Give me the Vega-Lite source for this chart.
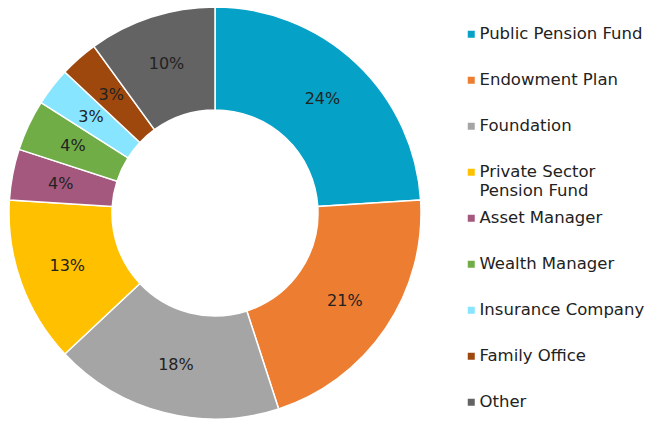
{
  "$schema": "https://vega.github.io/schema/vega-lite/v6.json",
  "width": 430,
  "height": 426,
  "padding": 0,
  "autosize": {"type": "pad"},
  "background": "white",
  "config": {"view": {"stroke": null}},
  "data": {
    "values": [
      {"type": "Public Pension Fund", "pct": 0.24, "order": 1},
      {"type": "Endowment Plan", "pct": 0.21, "order": 2},
      {"type": "Foundation", "pct": 0.18, "order": 3},
      {"type": "Private Sector Pension Fund", "pct": 0.13, "order": 4},
      {"type": "Asset Manager", "pct": 0.04, "order": 5},
      {"type": "Wealth Manager", "pct": 0.04, "order": 6},
      {"type": "Insurance Company", "pct": 0.03, "order": 7},
      {"type": "Family Office", "pct": 0.03, "order": 8},
      {"type": "Other", "pct": 0.10, "order": 9}
    ]
  },
  "encoding": {
    "theta": {"field": "pct", "type": "quantitative", "stack": true},
    "order": {"field": "order", "type": "quantitative"}
  },
  "layer": [
    {
      "mark": {"type": "arc", "outerRadius": 206, "innerRadius": 103, "stroke": "white", "strokeWidth": 1.5},
      "encoding": {
        "color": {
          "field": "type",
          "type": "nominal",
          "sort": null,
          "scale": {
            "domain": ["Public Pension Fund", "Endowment Plan", "Foundation", "Private Sector Pension Fund", "Asset Manager", "Wealth Manager", "Insurance Company", "Family Office", "Other"],
            "range": ["#06A1C7", "#ED7D31", "#A5A5A5", "#FFC000", "#A5587D", "#70AD47", "#87E5FF", "#9E480E", "#636363"]
          },
          "legend": {
            "title": null,
            "orient": "none",
            "legendX": 463,
            "legendY": 26,
            "symbolType": "square",
            "symbolSize": 49,
            "symbolStrokeWidth": 0,
            "labelFont": "DejaVu Sans",
            "labelFontSize": 16.5,
            "labelColor": "#222222",
            "labelLimit": 300,
            "labelOffset": 0,
            "rowPadding": 10,
            "labelExpr": "datum.label == 'Private Sector Pension Fund' ? ['Private Sector', 'Pension Fund'] : [datum.label, ' ']"
          }
        }
      }
    },
    {
      "mark": {"type": "text", "radius": 157, "font": "DejaVu Sans", "fontSize": 16, "color": "#222222"},
      "encoding": {
        "text": {"field": "pct", "type": "quantitative", "format": ".0%"},
        "detail": {"field": "type"}
      }
    }
  ]
}
